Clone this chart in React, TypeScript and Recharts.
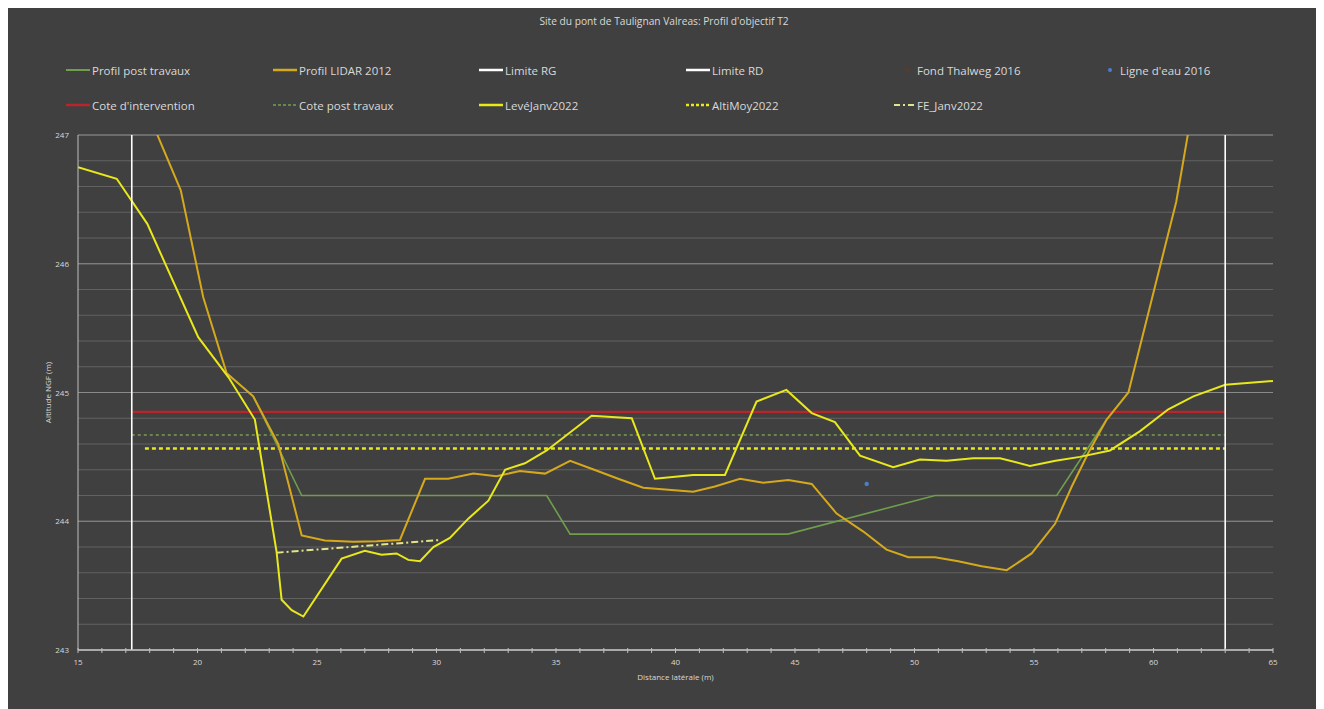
import React from 'react';
import { ComposedChart, Line, Scatter, XAxis, YAxis, CartesianGrid, ReferenceLine, Legend } from 'recharts';

const TITLE = "Site du pont de Taulignan Valreas: Profil d'objectif T2";
const X_LABEL = 'Distance latérale (m)';
const Y_LABEL = 'Altitude NGF (m)';

const xTicks = [15, 16, 17, 18, 19, 20, 21, 22, 23, 24, 25, 26, 27, 28, 29, 30, 31, 32, 33, 34, 35, 36, 37, 38, 39, 40, 41, 42, 43, 44, 45, 46, 47, 48, 49, 50, 51, 52, 53, 54, 55, 56, 57, 58, 59, 60, 61, 62, 63, 64, 65];
const xLabelTicks = [15, 20, 25, 30, 35, 40, 45, 50, 55, 60, 65];
const yTicks = [243, 243.2, 243.4, 243.6, 243.8, 244, 244.2, 244.4, 244.6, 244.8, 245, 245.2, 245.4, 245.6, 245.8, 246, 246.2, 246.4, 246.6, 246.8, 247];
const yMajorTicks = [243, 244, 245, 246, 247];

const profilPostTravaux: [number, number][] = [
  [21.22, 245.15], [22.33, 244.97], [24.36, 244.2], [34.61, 244.2], [35.59, 243.9],
  [44.7, 243.9], [50.86, 244.2], [55.95, 244.2], [58.04, 244.79],
];
const profilLidar2012: [number, number][] = [
  [17.3, 247.45], [19.3, 246.57], [20.24, 245.74], [21.22, 245.15], [22.33, 244.97], [23.38, 244.6],
  [24.36, 243.89], [25.33, 243.85], [26.52, 243.84], [27.5, 243.845], [28.47, 243.855], [29.52, 244.33],
  [30.49, 244.33], [31.54, 244.37], [32.5, 244.35], [33.49, 244.39], [34.54, 244.37], [35.59, 244.47],
  [36.6, 244.4], [37.6, 244.33], [38.65, 244.26], [39.7, 244.245], [40.74, 244.23], [41.65, 244.27],
  [42.7, 244.33], [43.67, 244.3], [44.72, 244.32], [45.7, 244.29], [46.74, 244.06], [47.86, 243.92],
  [48.83, 243.78], [49.74, 243.72], [50.86, 243.72], [51.83, 243.69], [52.81, 243.65], [53.86, 243.62],
  [54.9, 243.75], [55.88, 243.98], [56.58, 244.27], [57.27, 244.53], [58.04, 244.79], [58.95, 245.0],
  [59.95, 245.74], [60.95, 246.48], [61.9, 247.5],
];
const limiteRG: [number, number][] = [[17.25, 243], [17.25, 247]];
const limiteRD: [number, number][] = [[63.0, 243], [63.0, 247]];
const fondThalweg2016: [number, number][] = [[47.8, 244.13]];
const ligneEau2016: [number, number][] = [[48.0, 244.29]];
const coteIntervention: [number, number][] = [[17.25, 244.85], [63.0, 244.85]];
const cotePostTravaux: [number, number][] = [[17.25, 244.67], [63.0, 244.67]];
const leveJanv2022: [number, number][] = [
  [15.0, 246.75], [16.62, 246.66], [17.9, 246.31], [20.03, 245.43], [21.29, 245.12], [22.4, 244.79],
  [23.31, 243.76], [23.52, 243.39], [23.94, 243.31], [24.43, 243.26], [26.03, 243.71], [27.0, 243.77],
  [27.7, 243.74], [28.33, 243.75], [28.82, 243.7], [29.31, 243.69], [29.87, 243.8], [30.56, 243.87],
  [31.33, 244.02], [32.17, 244.16], [32.87, 244.4], [33.7, 244.45], [34.61, 244.55], [35.45, 244.67],
  [36.49, 244.82], [38.17, 244.8], [39.14, 244.33], [40.74, 244.36], [42.07, 244.36], [43.39, 244.93],
  [44.64, 245.02], [45.7, 244.84], [46.67, 244.77], [47.72, 244.51], [49.11, 244.42], [50.23, 244.48],
  [51.34, 244.47], [52.46, 244.49], [53.58, 244.49], [54.83, 244.43], [55.9, 244.47], [56.92, 244.5],
  [58.18, 244.55], [59.44, 244.7], [60.62, 244.87], [61.67, 244.97], [63.0, 245.06], [65.0, 245.09],
];
const altiMoy2022: [number, number][] = [[17.8, 244.565], [63.0, 244.565]];
const feJanv2022: [number, number][] = [[23.31, 243.756], [30.15, 243.854]];

const toPts = (arr: [number, number][]) => arr.map(([x, y]) => ({ x, y }));

const W = 1312;
const H = 703;
const FONT = "'Open Sans', sans-serif";
const TXT = '#d9d9d9';

type Item = { name: string; color: string; kind: 'line' | 'dash' | 'dot' | 'dashdot' | 'marker'; width: number; left: number; sym: number };
const legendItems: Item[] = [
  { name: 'Profil post travaux', color: '#6f9e4c', kind: 'line', width: 2, left: 57, sym: 26 },
  { name: 'Profil LIDAR 2012', color: '#d6a91c', kind: 'line', width: 2.5, left: 264, sym: 26 },
  { name: 'Limite RG', color: '#ffffff', kind: 'line', width: 2.5, left: 470, sym: 26 },
  { name: 'Limite RD', color: '#ffffff', kind: 'line', width: 2.5, left: 677, sym: 26 },
  { name: 'Fond Thalweg 2016', color: '#5e3a26', kind: 'marker', width: 2, left: 885, sym: 23 },
  { name: "Ligne d'eau 2016", color: '#4a7fd0', kind: 'marker', width: 2, left: 1092, sym: 19 },
  { name: "Cote d'intervention", color: '#b8262b', kind: 'line', width: 2.5, left: 57, sym: 26 },
  { name: 'Cote post travaux', color: '#74a052', kind: 'dash', width: 1.5, left: 264, sym: 26 },
  { name: 'LevéJanv2022', color: '#e8e81a', kind: 'line', width: 2.5, left: 470, sym: 26 },
  { name: 'AltiMoy2022', color: '#e8e81a', kind: 'dot', width: 2.5, left: 677, sym: 26 },
  { name: 'FE_Janv2022', color: '#e3e38a', kind: 'dashdot', width: 2, left: 885, sym: 23 },
];
const rowTop = [17, 52];

const renderLegend = () => (
  <div style={{ position: 'relative', width: W, height: 70, fontFamily: FONT }}>
    {legendItems.map((it, i) => {
      const row = Math.floor(i / 6);
      const dash = it.kind === 'dash' ? '3 2' : it.kind === 'dot' ? '3 2' : it.kind === 'dashdot' ? '6 3 2 3' : undefined;
      return (
        <div key={it.name} style={{ position: 'absolute', left: it.left, top: rowTop[row] - 8, height: 16, display: 'flex', alignItems: 'center', whiteSpace: 'nowrap' }}>
          <svg width={it.sym} height={16}>
            {it.kind === 'marker' ? (
              <circle cx={it.sym - 9} cy={8} r={2} fill={it.color} />
            ) : (
              <line x1={1} x2={it.sym - 1} y1={8} y2={8} stroke={it.color} strokeWidth={it.width} strokeDasharray={dash} />
            )}
          </svg>
          <span style={{ color: TXT, fontSize: 11.5, marginLeft: 1 }}>{it.name}</span>
        </div>
      );
    })}
  </div>
);

const XTick = (props: any) => {
  const { x, y, payload } = props;
  const v = payload.value;
  const major = xLabelTicks.includes(v);
  return (
    <g>
      <line x1={x} x2={x} y1={y - 2} y2={y + 3} stroke="#bfbfbf" strokeWidth={1} />
      {major && (
        <text x={x} y={y + 15} textAnchor="middle" fill={TXT} fontSize={8} fontFamily={FONT}>{v}</text>
      )}
    </g>
  );
};

const YTick = (props: any) => {
  const { x, y, payload } = props;
  const v = payload.value;
  if (!yMajorTicks.includes(v)) return <g />;
  return (
    <text x={x - 9} y={y + 3} textAnchor="end" fill={TXT} fontSize={8} fontFamily={FONT}>{v}</text>
  );
};

export default function App() {
  return (
    <div style={{ position: 'relative', width: W, height: H, marginTop: -2, background: '#404040', fontFamily: FONT }}>
      <div style={{ position: 'absolute', top: 8, left: 0, width: W, textAlign: 'center', color: TXT, fontSize: 10.2, fontFamily: FONT, zIndex: 2 }}>{TITLE}</div>
      <ComposedChart width={W} height={H} margin={{ top: 59, right: 47, bottom: 19, left: 0 }}>
        <CartesianGrid horizontal vertical={false} stroke="#626262" strokeWidth={1} />
        {yMajorTicks.map((v) => (
          <ReferenceLine key={v} y={v} stroke="#8a8a8a" strokeWidth={1} ifOverflow="extendDomain" />
        ))}
        <XAxis
          type="number"
          dataKey="x"
          domain={[15, 65]}
          ticks={xTicks}
          interval={0}
          allowDataOverflow
          height={40}
          tickSize={0}
          tickMargin={0}
          axisLine={{ stroke: '#bfbfbf', strokeWidth: 1.5 }}
          tick={<XTick />}
          label={{ value: X_LABEL, position: 'insideBottom', offset: 10, fill: TXT, fontSize: 8, fontFamily: FONT }}
        />
        <YAxis
          type="number"
          dataKey="y"
          domain={[243, 247]}
          ticks={yTicks}
          interval={0}
          allowDataOverflow
          width={70}
          tickSize={0}
          tickMargin={0}
          axisLine={{ stroke: '#bfbfbf', strokeWidth: 1 }}
          tick={<YTick />}
          label={{ value: Y_LABEL, angle: -90, position: 'center', dx: 5, fill: TXT, fontSize: 8, fontFamily: FONT }}
        />
        <Legend verticalAlign="top" align="left" content={renderLegend} wrapperStyle={{ top: 47, left: 0, width: W, height: 70 }} />
        <Line name="Cote d'intervention" data={toPts(coteIntervention)} dataKey="y" stroke="#b8262b" strokeWidth={2.2} dot={false} isAnimationActive={false} />
        <Line name="Cote post travaux" data={toPts(cotePostTravaux)} dataKey="y" stroke="#74a052" strokeWidth={1.5} strokeDasharray="3 3" dot={false} isAnimationActive={false} />
        <Line name="AltiMoy2022" data={toPts(altiMoy2022)} dataKey="y" stroke="#e8e81a" strokeWidth={2.5} strokeDasharray="4 3" dot={false} isAnimationActive={false} />
        <Line name="Profil post travaux" data={toPts(profilPostTravaux)} dataKey="y" stroke="#6f9e4c" strokeWidth={1.6} dot={false} isAnimationActive={false} />
        <Line name="Profil LIDAR 2012" data={toPts(profilLidar2012)} dataKey="y" stroke="#d6a91c" strokeWidth={2} dot={false} isAnimationActive={false} />
        <Line name="FE_Janv2022" data={toPts(feJanv2022)} dataKey="y" stroke="#e3e38a" strokeWidth={2} strokeDasharray="7 3 2 3" dot={false} isAnimationActive={false} />
        <Line name="LevéJanv2022" data={toPts(leveJanv2022)} dataKey="y" stroke="#e8e81a" strokeWidth={2} dot={false} isAnimationActive={false} />
        <Line name="Limite RG" data={toPts(limiteRG)} dataKey="y" stroke="#ffffff" strokeWidth={1.6} dot={false} isAnimationActive={false} />
        <Line name="Limite RD" data={toPts(limiteRD)} dataKey="y" stroke="#ffffff" strokeWidth={1.6} dot={false} isAnimationActive={false} />
        <Scatter name="Fond Thalweg 2016" data={toPts(fondThalweg2016)} dataKey="y" fill="#5e3a26" shape={(p: any) => <circle cx={p.cx} cy={p.cy} r={1.6} fill="#5e3a26" />} isAnimationActive={false} />
        <Scatter name="Ligne d'eau 2016" data={toPts(ligneEau2016)} dataKey="y" fill="#4a7fd0" shape={(p: any) => <circle cx={p.cx} cy={p.cy} r={2.2} fill="#4a7fd0" />} isAnimationActive={false} />
      </ComposedChart>
    </div>
  );
}
